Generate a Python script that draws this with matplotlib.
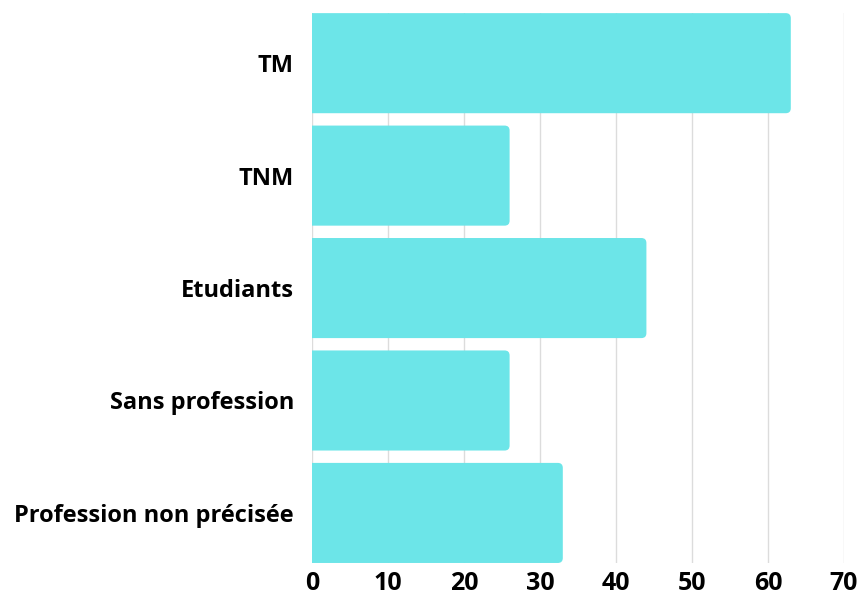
import matplotlib
matplotlib.use("Agg")
import matplotlib.pyplot as plt
from matplotlib.patches import FancyBboxPatch

categories = ["TM", "TNM", "Etudiants", "Sans profession", "Profession non précisée"]
values = [63, 26, 44, 26, 33]
xticks = [0, 10, 20, 30, 40, 50, 60, 70]

BAR_COLOR = "#6ce5e8"
BAR_H = 0.89

plt.rcParams["font.family"] = ["Open Sans", "DejaVu Sans"]

fig = plt.figure(figsize=(8.6, 5.97), dpi=100)
ax = fig.add_axes([0.3628, 0.057, 0.6186, 0.921])

ax.set_xlim(0, 70)
ax.set_ylim(len(categories) - 1 + BAR_H / 2, -BAR_H / 2)

# bars with rounded right ends; the left rounded corners start past x=0
# and get clipped by the axes, so the bars look square at the base
x_per_px = 70 / (0.6186 * 860)
y_per_px = (len(categories) - 1 + BAR_H) / (0.921 * 597)
radius = 5 * x_per_px
for i, v in enumerate(values):
    ax.add_patch(FancyBboxPatch((-2 * radius, i - BAR_H / 2), v + 2 * radius, BAR_H,
                                boxstyle=f"round,pad=0,rounding_size={radius}",
                                mutation_aspect=y_per_px / x_per_px,
                                facecolor=BAR_COLOR, edgecolor="none", zorder=3))

ax.set_yticks(range(len(categories)))
ax.set_yticklabels(categories, fontsize=17, fontweight="bold")
ax.set_xticks(xticks)
ax.set_xticklabels([str(t) for t in xticks], fontsize=18, fontweight="bold")
ax.tick_params(axis="y", length=0, pad=13)
ax.tick_params(axis="x", length=0, pad=6)

ax.grid(axis="x", color="#dcdcdc", linewidth=1.0, zorder=0)
ax.set_axisbelow(True)
for s in ax.spines.values():
    s.set_visible(False)

fig.savefig("out.png", dpi=100, facecolor="white")
